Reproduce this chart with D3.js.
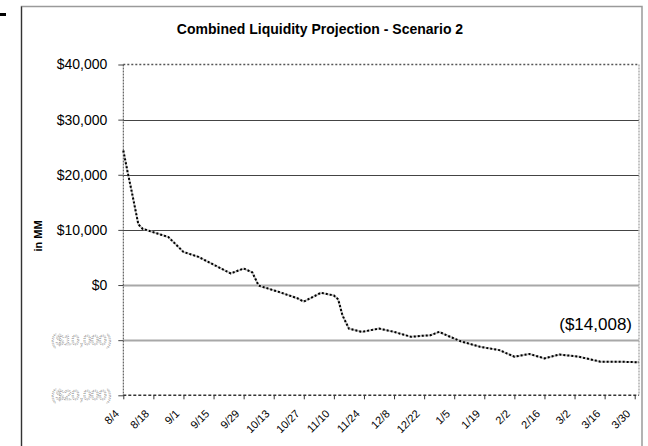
<!DOCTYPE html>
<html>
<head>
<meta charset="utf-8">
<script src="https://cdn.jsdelivr.net/npm/d3@7/dist/d3.min.js"></script>
<style>
  html, body { margin: 0; padding: 0; background: #fff; }
  svg { display: block; font-family: "Liberation Sans", Arial, sans-serif; }
</style>
</head>
<body>
<svg id="chart" width="648" height="446"></svg>
<script>
// ---- Data ----
const title = "Combined Liquidity Projection - Scenario 2";
const yAxisTitle = "in MM";
const dates = [
  "2008-08-04","2008-08-06","2008-08-08","2008-08-11","2008-08-13","2008-08-17",
  "2008-08-25","2008-09-01","2008-09-08","2008-09-15","2008-09-23","2008-09-29",
  "2008-10-03","2008-10-06","2008-10-15","2008-10-24","2008-10-27","2008-11-04",
  "2008-11-10","2008-11-12","2008-11-14","2008-11-17","2008-11-23","2008-12-01",
  "2008-12-08","2008-12-16","2008-12-21","2008-12-25","2008-12-29","2009-01-02",
  "2009-01-08","2009-01-17","2009-01-26","2009-02-02","2009-02-09","2009-02-16",
  "2009-02-23","2009-03-04","2009-03-14","2009-03-23","2009-04-01"
];
const liquidity = [
  24400, 20500, 16800, 11000, 10200, 9700,
  8700, 6000, 5100, 3700, 2100, 3000,
  2300, -100, -1200, -2400, -3000, -1400,
  -1900, -2600, -5500, -7900, -8500, -7900,
  -8500, -9400, -9200, -9100, -8500, -9200,
  -10200, -11200, -11800, -13000, -12500, -13300,
  -12600, -13000, -13900, -13900, -14008
];
const yTickValues = [40000, 30000, 20000, 10000, 0, -10000, -20000];
const xTickDates = [
  "2008-08-04","2008-08-18","2008-09-01","2008-09-15","2008-09-29","2008-10-13",
  "2008-10-27","2008-11-10","2008-11-24","2008-12-08","2008-12-22","2009-01-05",
  "2009-01-19","2009-02-02","2009-02-16","2009-03-02","2009-03-16","2009-03-30"
];
const xDomain = ["2008-08-04", "2009-04-01"];
const yDomain = [-20000, 40000];

// ---- Drawing ----
const parse = d3.timeParse("%Y-%m-%d");
const series = dates.map((d, i) => ({ date: parse(d), value: liquidity[i] }));

const svg = d3.select("#chart");
const plot = { left: 123.3, right: 639, top: 64.5, bottom: 395.3 };

const x = d3.scaleTime().domain(xDomain.map(parse)).range([plot.left, plot.right]);
const y = d3.scaleLinear().domain(yDomain).range([plot.bottom, plot.top]);

const money = v => v < 0 ? "($" + d3.format(",")(-v) + ")" : "$" + d3.format(",")(v);

// outer frame
svg.append("rect").attr("x", 21.5).attr("y", 6.5).attr("width", 620.5).attr("height", 460)
  .attr("fill", "none").attr("stroke", "#9a9a9a").attr("stroke-width", 1.5);
svg.append("line").attr("x1", 21.5).attr("x2", 21.5).attr("y1", 6.5).attr("y2", 446)
  .attr("stroke", "#333").attr("stroke-width", 1.2);
// small mark at top-left
svg.append("rect").attr("x", 0).attr("y", 13).attr("width", 6).attr("height", 3).attr("fill", "#000");

// title
svg.append("text").attr("x", 320).attr("y", 34).attr("text-anchor", "middle")
  .attr("font-size", 14).attr("font-weight", "bold").attr("fill", "#000").text(title);

// y axis title
svg.append("text").attr("transform", "translate(42,236) rotate(-90)")
  .attr("text-anchor", "middle").attr("font-size", 11).attr("font-weight", "bold")
  .attr("fill", "#000").text(yAxisTitle);

// gridlines
const grid = svg.append("g");
yTickValues.filter(v => v > yDomain[0] && v < yDomain[1]).forEach(v => {
  const pos = v > 0;
  grid.append("line")
    .attr("x1", plot.left).attr("x2", plot.right)
    .attr("y1", Math.round(y(v)) + 0.5).attr("y2", Math.round(y(v)) + 0.5)
    .attr("stroke", pos ? "#444" : "#a8a8a8").attr("stroke-width", pos ? 1 : 2);
});

// y axis
const yAxis = d3.axisLeft(y).tickValues(yTickValues).tickSize(5).tickPadding(0).tickFormat(money);
const gy = svg.append("g").attr("transform", `translate(${plot.left},0)`).call(yAxis);
gy.select(".domain").remove();
gy.selectAll(".tick line").attr("stroke", "#444");
gy.selectAll(".tick text")
  .attr("font-size", 14).attr("font-family", "'Liberation Sans', Arial, sans-serif")
  .attr("x", d => d < 0 ? -12 : -16)
  .attr("fill", d => d < 0 ? "#fff" : "#000")
  .attr("stroke", d => d < 0 ? "#8a8a8a" : "none")
  .attr("stroke-width", d => d < 0 ? 0.7 : 0)
  .attr("stroke-dasharray", d => d < 0 ? "1,1" : null);

// x axis
const xAxis = d3.axisBottom(x).tickValues(xTickDates.map(parse)).tickSize(4).tickFormat(d3.timeFormat("%-m/%-d"));
const gx = svg.append("g").attr("transform", `translate(0,${plot.bottom})`).call(xAxis);
gx.select(".domain").remove();
gx.selectAll(".tick line").attr("stroke", "#333");
gx.selectAll(".tick text")
  .attr("font-size", 11).attr("font-family", "'Liberation Sans', Arial, sans-serif").attr("fill", "#000")
  .attr("text-anchor", "end").attr("y", 0).attr("dy", 0)
  .attr("transform", "translate(-4,19) rotate(-45)");

// plot borders
svg.append("line").attr("x1", plot.left).attr("x2", plot.right).attr("y1", plot.top).attr("y2", plot.top)
  .attr("stroke", "#555").attr("stroke-width", 1.5).attr("stroke-dasharray", "2,2");
svg.append("line").attr("x1", plot.right).attr("x2", plot.right).attr("y1", plot.top).attr("y2", plot.bottom)
  .attr("stroke", "#b0b0b0").attr("stroke-width", 1.5).attr("stroke-dasharray", "2,1");
svg.append("line").attr("x1", plot.left).attr("x2", plot.left).attr("y1", plot.top).attr("y2", plot.bottom)
  .attr("stroke", "#444").attr("stroke-width", 1).attr("stroke-dasharray", "2,1");
svg.append("line").attr("x1", plot.left).attr("x2", plot.right).attr("y1", plot.bottom).attr("y2", plot.bottom)
  .attr("stroke", "#333").attr("stroke-width", 1.5).attr("stroke-dasharray", "3,2");

// series line
const line = d3.line().x(d => x(d.date)).y(d => y(d.value));
svg.append("path").datum(series).attr("d", line)
  .attr("fill", "none").attr("stroke", "#c4c4c4").attr("stroke-width", 2);
svg.append("path").datum(series).attr("d", line)
  .attr("fill", "none").attr("stroke", "#000").attr("stroke-width", 2).attr("stroke-dasharray", "2,2");

// end value annotation
const last = series[series.length - 1];
svg.append("text").attr("x", 632).attr("y", 330).attr("text-anchor", "end")
  .attr("font-size", 17).attr("fill", "#000").text(money(last.value));
</script>
</body>
</html>
